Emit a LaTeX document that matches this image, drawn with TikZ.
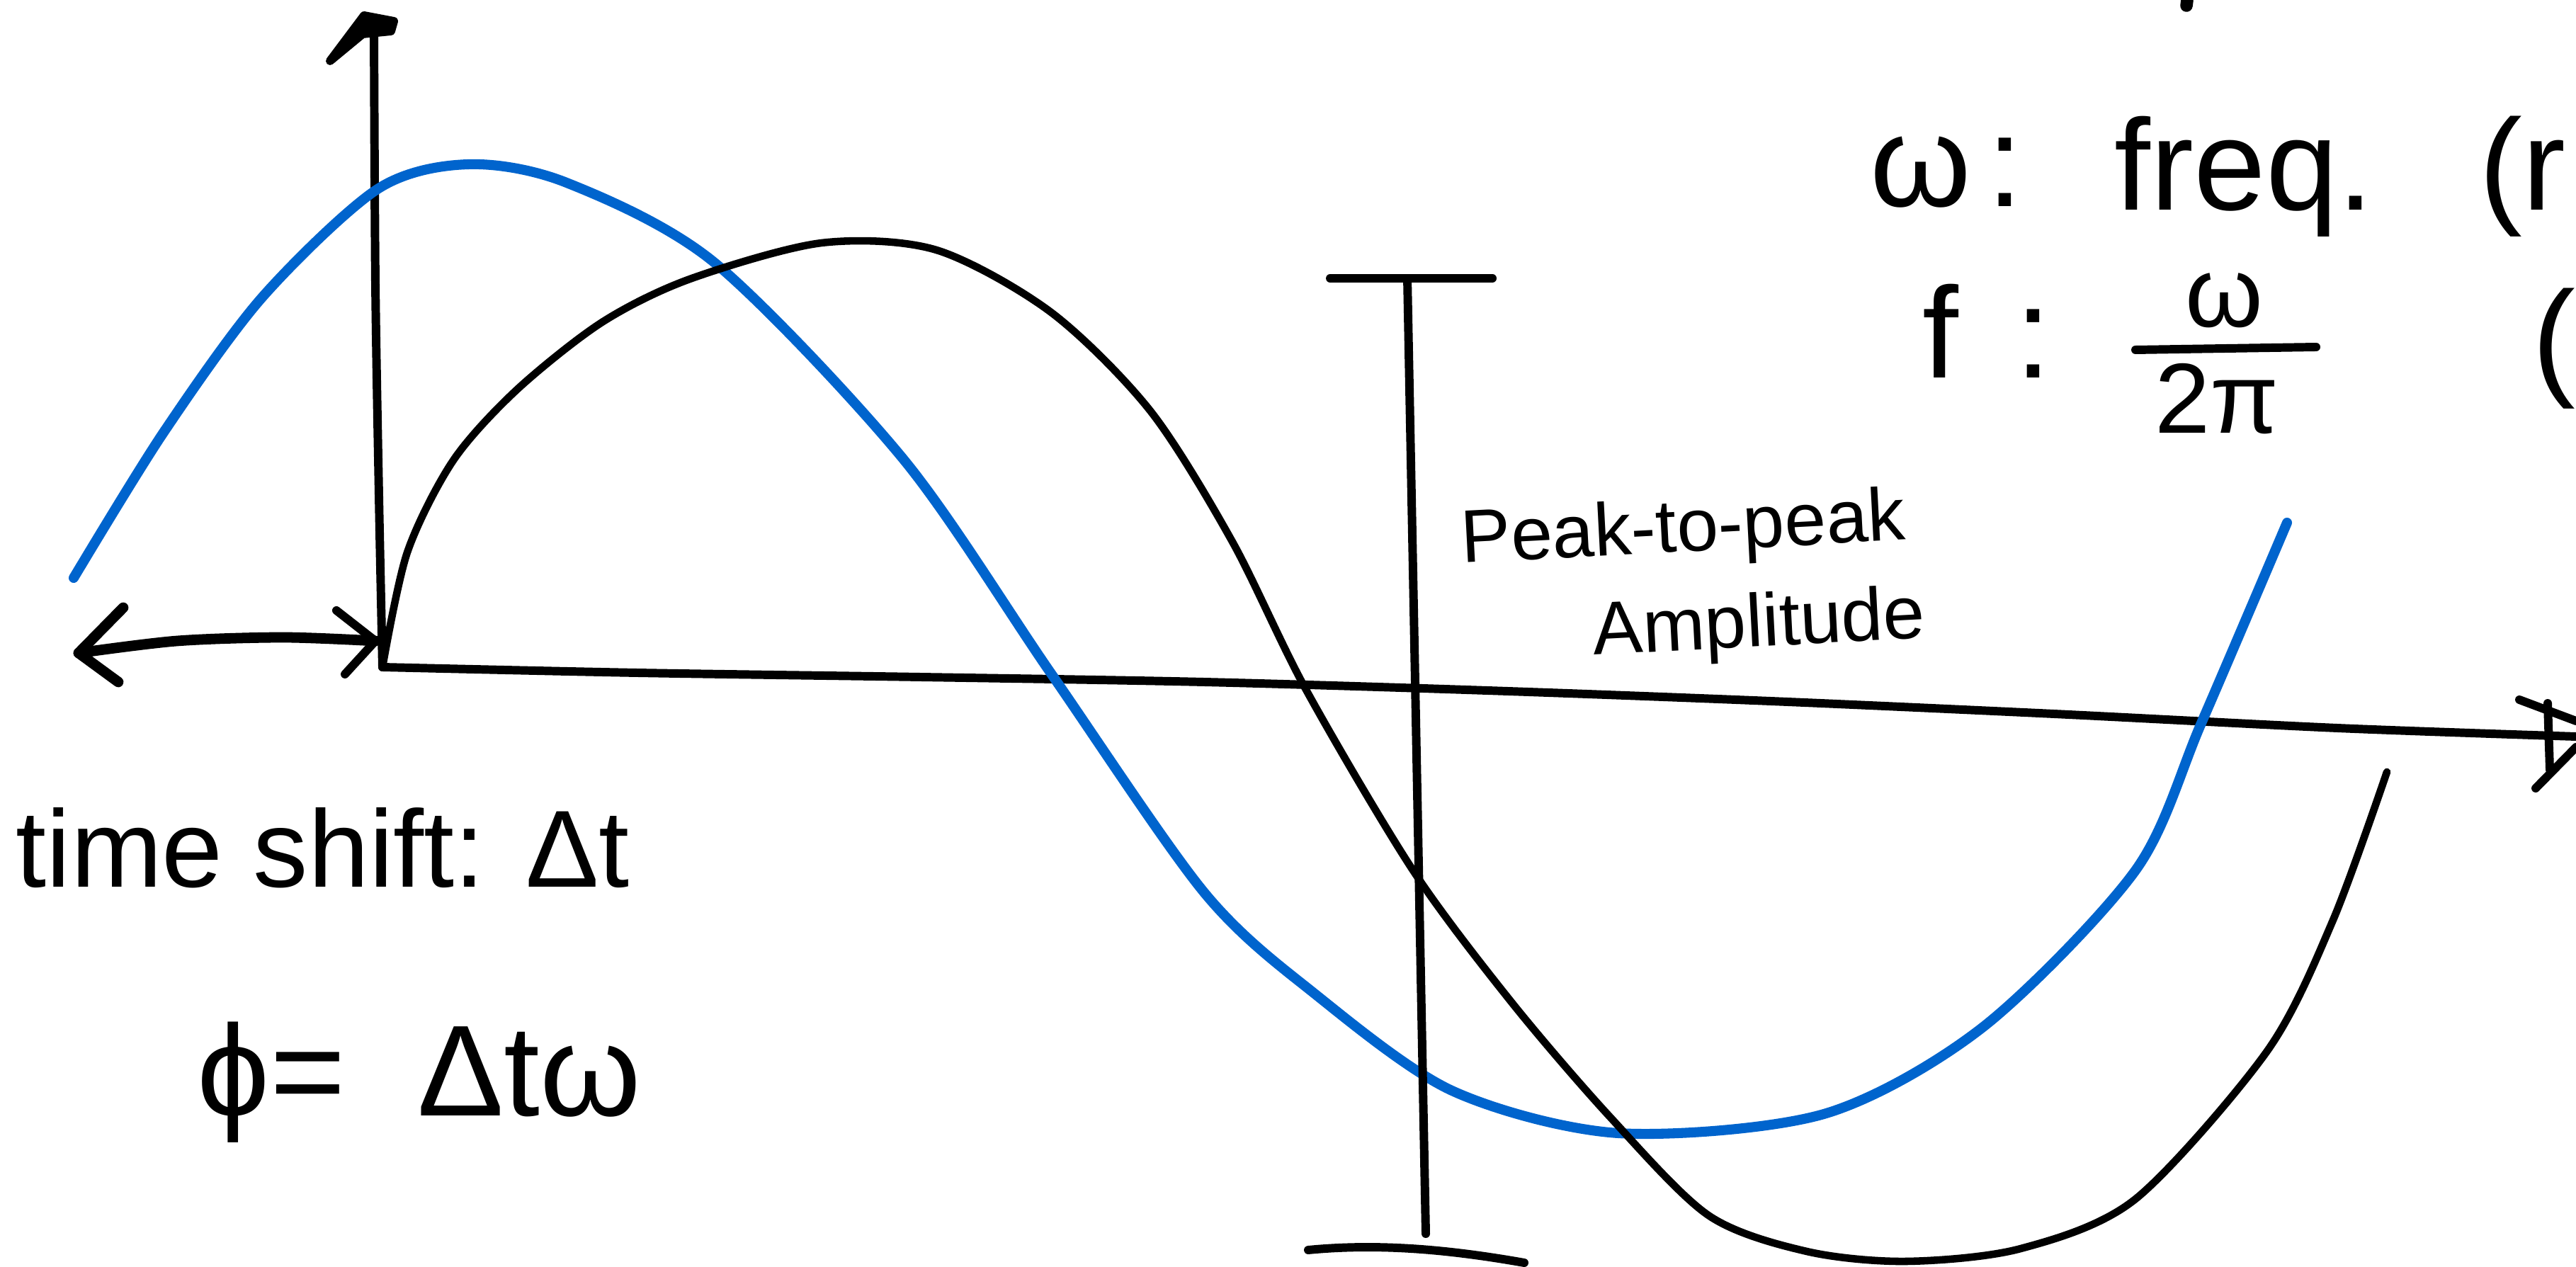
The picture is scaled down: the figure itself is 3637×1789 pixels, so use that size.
\documentclass[tikz,border=0pt]{standalone}
\usepackage{fontspec}
\setmainfont{Liberation Sans}
\definecolor{penblue}{RGB}{0,100,205}
\begin{document}
\begin{tikzpicture}[x=0.01cm,y=-0.01cm,line cap=round,line join=round,
  ink/.style={line width=3.4pt,black},
  thickink/.style={line width=4.2pt,black},
  bluepen/.style={line width=4pt,penblue},
  blackpen/.style={line width=3pt,black},
  lbl/.style={inner sep=0pt,font=\fontsize{30}{34}\selectfont},
  biglbl/.style={inner sep=0pt,font=\fontsize{44}{48}\selectfont},
  toplbl/.style={inner sep=0pt,font=\fontsize{52}{56}\selectfont}]
\useasboundingbox (0,0) rectangle (3637,1789);

% axes
\coordinate (O) at (540,942);
\coordinate (ytop) at (528,40);
\coordinate (xend) at (3637,1040);
\draw[ink] plot[smooth] coordinates {(O) (535,700) (530,400) (ytop)};
\filldraw[ink] (466,86) -- (514,22) -- (556,30) -- (552,44) -- (512,48) -- cycle;
\draw[ink] plot[smooth] coordinates {(O) (900,950) (1300,956) (1700,963) (2100,975) (2500,990) (2900,1008) (3300,1028) (xend)};
\draw[ink] (3557,988) -- (3637,1018);
\draw[ink] (3580,1113) -- (3637,1055);
\draw[ink] (3597,993) -- (3600,1087);

% time shift arrow
\coordinate (tsL) at (111,922);
\coordinate (tsR) at (530,905);
\draw[thickink] plot[smooth] coordinates {(tsL) (250,905) (400,900) (tsR)};
\draw[thickink] (174,858) -- (tsL) -- (167,963);
\draw[ink] (475,862) -- (tsR) -- (487,952);

% blue curve
\draw[bluepen] plot[smooth] coordinates {(104,816) (230,612) (370,420) (533,267) (661,232) (800,258) (1009,371) (1276,649) (1484,951) (1700,1260) (1856,1403) (2050,1540) (2285,1600) (2575,1573) (2800,1450) (3015,1229) (3108,1021) (3229,738)};

% black curve
\draw[blackpen] plot[smooth] coordinates {(O) (575,780) (640,650) (730,550) (850,455) (974,394) (1160,343) (1322,353) (1484,441) (1624,580) (1740,765) (1844,974) (1995,1229) (2134,1415) (2273,1577) (2412,1716) (2551,1767) (2691,1781) (2853,1763) (3015,1693) (3201,1484) (3294,1299) (3370,1090)};

% peak-to-peak bar
\coordinate (ppT) at (1987,393);
\coordinate (ppB) at (2013,1742);
\draw[ink] (ppT) -- (ppB);
\draw[ink] (1878,393) -- (2107,393);
\draw[ink] (1847,1765) .. controls (1950,1755) and (2050,1765) .. (2152,1783);

% top stray mark
\draw[line width=5pt,black] (3088,0) -- (3087,8);

% labels
\node[lbl,anchor=base west,rotate=3] (pp1) at (2064,795) {Peak-to-peak};
\node[lbl,anchor=base west,rotate=3] (pp2) at (2250,925) {Amplitude};
\node[biglbl,anchor=base west] (ts) at (22,1252) {time shift: Δt};
\node[biglbl,anchor=base west,font=\fontsize{52}{56}\selectfont] (phi) at (278,1575) {ϕ= \ Δtω};

\node[toplbl,anchor=base west] (w1) at (2640,292) {ω};
\node[toplbl,anchor=base west] (c1) at (2805,292) {:};
\node[toplbl,anchor=base west] (fr) at (2985,297) {freq.};
\node[toplbl,anchor=base west] (pa1) at (3500,297) {(r};

\node[toplbl,anchor=base west] (f2) at (2714,534) {f};
\node[toplbl,anchor=base west] (c2) at (2845,534) {:};
\node[biglbl,anchor=base,font=\fontsize{40}{44}\selectfont] (num) at (3140,462) {ω};
\draw[ink] (3015,494) -- (3270,490);
\node[biglbl,anchor=base,font=\fontsize{40}{44}\selectfont] (den) at (3130,612) {2π};
\node[toplbl,anchor=base west] (pa2) at (3575,540) {(};
\end{tikzpicture}
\end{document}
